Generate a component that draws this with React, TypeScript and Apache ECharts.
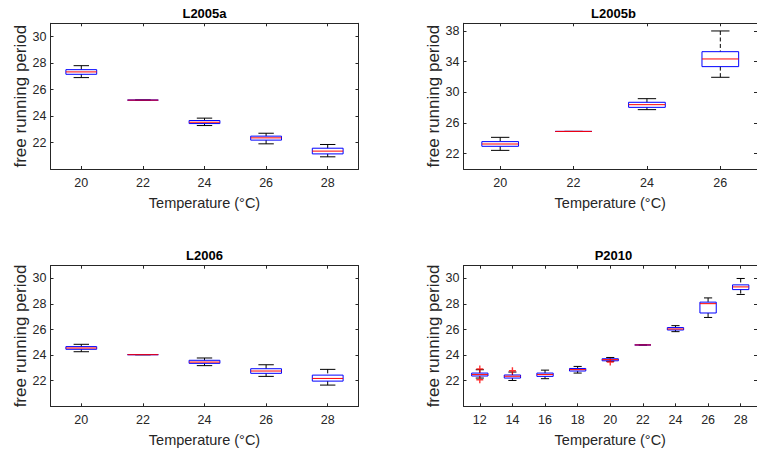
import React, { useEffect, useRef } from "react";
import * as echarts from "echarts";

// ---- data: each box is [min, q1, median, q3, max] ----
const tempsL2005a = [20, 22, 24, 26, 28];
const statsL2005a = [
  [26.9, 27.15, 27.33, 27.5, 27.8],
  [25.2, 25.2, 25.2, 25.2, 25.2],
  [23.28, 23.43, 23.53, 23.66, 23.84],
  [21.9, 22.18, 22.35, 22.48, 22.7],
  [20.92, 21.14, 21.35, 21.57, 21.85],
];

const tempsL2005b = [20, 22, 24, 26];
const statsL2005b = [
  [22.43, 22.96, 23.26, 23.57, 24.13],
  [24.9, 24.9, 24.9, 24.9, 24.9],
  [27.74, 28.04, 28.39, 28.7, 29.17],
  [31.96, 33.35, 34.35, 35.3, 38.0],
];

const tempsL2006 = [20, 22, 24, 26, 28];
const statsL2006 = [
  [24.27, 24.46, 24.56, 24.67, 24.85],
  [24.04, 24.04, 24.04, 24.04, 24.04],
  [23.18, 23.36, 23.46, 23.6, 23.78],
  [22.34, 22.58, 22.76, 22.94, 23.25],
  [21.66, 21.97, 22.18, 22.44, 22.89],
];

const tempsP2010 = [12, 14, 16, 18, 20, 22, 24, 26, 28];
const statsP2010 = [
  [22.21, 22.37, 22.48, 22.6, 22.86],
  [22.02, 22.21, 22.35, 22.45, 22.68],
  [22.16, 22.34, 22.48, 22.6, 22.83],
  [22.6, 22.76, 22.87, 22.96, 23.12],
  [23.52, 23.56, 23.65, 23.72, 23.82],
  [24.8, 24.8, 24.8, 24.8, 24.8],
  [25.84, 25.97, 26.05, 26.16, 26.31],
  [26.95, 27.3, 28.03, 28.15, 28.48],
  [28.75, 29.13, 29.34, 29.5, 30.0],
];
const outliersP2010 = [
  [12, 22.92],
  [12, 22.08],
  [14, 22.78],
  [20, 23.47],
];

const titles = ["L2005a", "L2005b", "L2006", "P2010"];
const xTicksA = [20, 22, 24, 26, 28];
const xTicksB = [20, 22, 24, 26];
const xTicksP = [12, 14, 16, 18, 20, 22, 24, 26, 28];
const yTicksStd = [22, 24, 26, 28, 30];
const yTicksB = [22, 26, 30, 34, 38];
const xLabel = "Temperature (°C)";
const yLabel = "free running period";

const FONT = "'Liberation Sans', Arial, Helvetica, sans-serif";
const AX = "#262626";

type Panel = {
  title: string;
  temps: number[];
  stats: number[][];
  xMin: number;
  xMax: number;
  xTicks: number[];
  yMin: number;
  yMax: number;
  yTicks: number[];
  grid: { left: number; top: number; width: number; height: number };
  outliers?: number[][];
};

const panels: Panel[] = [
  {
    title: titles[0], temps: tempsL2005a, stats: statsL2005a,
    xMin: 19, xMax: 29, xTicks: xTicksA, yMin: 20, yMax: 31, yTicks: yTicksStd,
    grid: { left: 50.5, top: 23.3, width: 308, height: 145.7 },
  },
  {
    title: titles[1], temps: tempsL2005b, stats: statsL2005b,
    xMin: 19, xMax: 27, xTicks: xTicksB, yMin: 20, yMax: 39, yTicks: yTicksB,
    grid: { left: 463.5, top: 23.3, width: 300, height: 145.7 },
  },
  {
    title: titles[2], temps: tempsL2006, stats: statsL2006,
    xMin: 19, xMax: 29, xTicks: xTicksA, yMin: 20, yMax: 31, yTicks: yTicksStd,
    grid: { left: 50.5, top: 265.7, width: 308, height: 140.6 },
  },
  {
    title: titles[3], temps: tempsP2010, stats: statsP2010,
    xMin: 11, xMax: 29, xTicks: xTicksP, yMin: 20, yMax: 31, yTicks: yTicksStd,
    grid: { left: 463.5, top: 265.7, width: 300, height: 140.6 },
    outliers: outliersP2010,
  },
];

const plusPath =
  "path://M2.4,0H3.6V2.4H6V3.6H3.6V6H2.4V3.6H0V2.4H2.4Z";

function renderBox(params: any, api: any) {
  const x = api.value(0);
  const lo = api.coord([x, api.value(1)]);
  const q1 = api.coord([x, api.value(2)]);
  const md = api.coord([x, api.value(3)]);
  const q3 = api.coord([x, api.value(4)]);
  const hi = api.coord([x, api.value(5)]);
  const w = api.size([1, 0])[0];
  const cx = lo[0];
  const half = w / 2;
  const cap = w / 4;
  const black = { stroke: "#000", lineWidth: 1, fill: "none" };
  return {
    type: "group",
    children: [
      {
        type: "line",
        shape: { x1: cx, y1: hi[1], x2: cx, y2: q3[1] },
        style: { ...black, lineDash: [4, 2.5] },
      },
      {
        type: "line",
        shape: { x1: cx, y1: q1[1], x2: cx, y2: lo[1] },
        style: { ...black, lineDash: [4, 2.5] },
      },
      {
        type: "line",
        shape: { x1: cx - cap, y1: hi[1], x2: cx + cap, y2: hi[1] },
        style: black,
      },
      {
        type: "line",
        shape: { x1: cx - cap, y1: lo[1], x2: cx + cap, y2: lo[1] },
        style: black,
      },
      {
        type: "rect",
        shape: { x: cx - half, y: q3[1], width: w, height: q1[1] - q3[1] },
        style: { stroke: "#0000ff", lineWidth: 1, fill: "none" },
      },
      {
        type: "line",
        shape: { x1: cx - half, y1: md[1], x2: cx + half, y2: md[1] },
        style: { stroke: "#ff0000", lineWidth: 1 },
      },
    ],
  };
}

function buildOption() {
  const grid: any[] = [];
  const xAxis: any[] = [];
  const yAxis: any[] = [];
  const series: any[] = [];
  const title: any[] = [];
  const lineStyle = { color: AX, width: 1 };

  panels.forEach((p, i) => {
    grid.push({
      ...p.grid,
      show: false,
      containLabel: false,
    });
    title.push({
      text: p.title,
      left: p.grid.left + p.grid.width / 2,
      top: p.grid.top - 16.5,
      textAlign: "center",
      padding: 0,
      textStyle: { fontSize: 13, fontWeight: "bold", color: "#000", fontFamily: FONT },
    });
    // bottom x axis
    xAxis.push({
      gridIndex: i,
      type: "value",
      position: "bottom",
      min: p.xMin,
      max: p.xMax,
      axisLine: { show: true, onZero: false, lineStyle },
      axisTick: { show: true, inside: true, length: 3, customValues: p.xTicks, lineStyle },
      axisLabel: {
        show: true,
        customValues: p.xTicks,
        fontSize: 12.5,
        color: AX,
        margin: 7,
        fontFamily: FONT,
      },
      splitLine: { show: false },
      name: xLabel,
      nameLocation: "middle",
      nameGap: 26,
      nameTextStyle: { fontSize: 14.5, color: AX, fontFamily: FONT },
    });
    // top mirror x axis
    xAxis.push({
      gridIndex: i,
      type: "value",
      position: "top",
      min: p.xMin,
      max: p.xMax,
      axisLine: { show: true, onZero: false, lineStyle },
      axisTick: { show: true, inside: true, length: 3, customValues: p.xTicks, lineStyle },
      axisLabel: { show: false },
      splitLine: { show: false },
    });
    // left y axis
    yAxis.push({
      gridIndex: i,
      type: "value",
      position: "left",
      min: p.yMin,
      max: p.yMax,
      axisLine: { show: true, onZero: false, lineStyle },
      axisTick: { show: true, inside: true, length: 3, customValues: p.yTicks, lineStyle },
      axisLabel: {
        show: true,
        customValues: p.yTicks,
        fontSize: 12.5,
        color: AX,
        margin: 4,
        fontFamily: FONT,
      },
      splitLine: { show: false },
      name: yLabel,
      nameLocation: "middle",
      nameGap: 21,
      nameTextStyle: { fontSize: 17, color: AX, fontFamily: FONT },
    });
    // right mirror y axis
    yAxis.push({
      gridIndex: i,
      type: "value",
      position: "right",
      min: p.yMin,
      max: p.yMax,
      axisLine: { show: true, onZero: false, lineStyle },
      axisTick: { show: true, inside: true, length: 3, customValues: p.yTicks, lineStyle },
      axisLabel: { show: false },
      splitLine: { show: false },
    });

    const data = p.temps.map((t, k) => [t, ...p.stats[k]]);
    series.push({
      type: "custom",
      name: p.title,
      xAxisIndex: i * 2,
      yAxisIndex: i * 2,
      renderItem: renderBox,
      encode: { x: 0, y: [1, 2, 3, 4, 5] },
      data,
      clip: false,
      z: 2,
    });
    if (p.outliers) {
      series.push({
        type: "scatter",
        name: p.title + " outliers",
        xAxisIndex: i * 2,
        yAxisIndex: i * 2,
        symbol: plusPath,
        symbolSize: 7,
        itemStyle: { color: "#ff0000" },
        data: p.outliers,
        z: 3,
      });
    }
  });

  return {
    animation: false,
    backgroundColor: "#ffffff",
    title,
    grid,
    xAxis,
    yAxis,
    series,
  };
}

export default function App() {
  const ref = useRef<HTMLDivElement>(null);
  useEffect(() => {
    if (!ref.current) return;
    const chart = echarts.init(ref.current, undefined, { renderer: "svg" });
    chart.setOption(buildOption() as any);
    return () => chart.dispose();
  }, []);
  return (
    <div
      ref={ref}
      style={{ position: "fixed", left: 0, top: 0, width: 757, height: 455, background: "#fff" }}
    />
  );
}
